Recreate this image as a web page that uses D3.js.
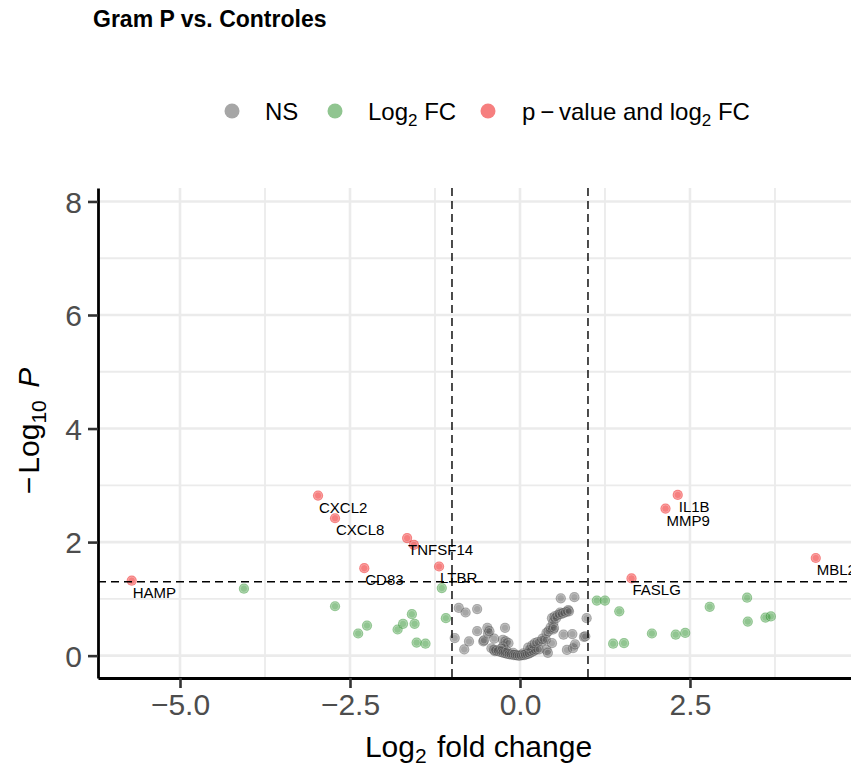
<!DOCTYPE html>
<html>
<head>
<meta charset="utf-8">
<script src="https://cdn.jsdelivr.net/npm/d3@7"></script>
<style>
    body { margin: 0; background: #fff; }
    svg { display: block; font-family: "Liberation Sans", Arial, Helvetica, sans-serif; }
</style>
</head>
<body>
<div id="container"></div>
<script>
// not significant: [log2FC, -log10 P]
const nsPoints = [
    [-0.96, 0.31], [-0.90, 0.84], [-0.82, 0.11], [-0.80, 0.76], [-0.75, 0.25],
    [-0.63, 0.82], [-0.63, 0.43], [-0.54, 0.25], [-0.53, 0.27], [-0.48, 0.49],
    [-0.47, 0.39], [-0.45, 0.43], [-0.38, 0.30], [-0.37, 0.08], [-0.25, 0.28],
    [-0.22, 0.49], [-0.21, 0.25], [-0.17, 0.22], [-0.25, 0.16],
    [-0.42, 0.13], [-0.38, 0.10], [-0.34, 0.09], [-0.30, 0.07], [-0.28, 0.12],
    [-0.27, 0.06], [-0.24, 0.05], [-0.21, 0.04], [-0.20, 0.09], [-0.18, 0.03],
    [-0.15, 0.02], [-0.12, 0.02], [-0.10, 0.05], [-0.09, 0.01], [-0.06, 0.01],
    [-0.03, 0.00], [0.00, 0.00], [0.03, 0.01], [0.05, 0.04], [0.06, 0.01],
    [0.09, 0.02], [0.12, 0.03], [0.15, 0.05], [0.15, 0.10], [0.18, 0.07],
    [0.21, 0.09], [0.24, 0.11],
    [0.12, 0.14], [0.18, 0.18], [0.22, 0.22], [0.26, 0.24], [0.28, 0.11],
    [0.32, 0.25], [0.33, 0.30], [0.38, 0.28], [0.39, 0.10], [0.39, 0.40],
    [0.41, 0.05], [0.42, 0.43], [0.45, 0.50], [0.47, 0.22], [0.47, 0.66],
    [0.49, 0.46], [0.49, 0.58], [0.50, 0.49], [0.51, 0.69], [0.53, 0.66],
    [0.56, 0.72], [0.59, 0.76], [0.60, 1.01], [0.60, 0.73], [0.64, 0.75],
    [0.64, 0.37], [0.68, 0.77], [0.69, 0.10], [0.71, 0.80], [0.72, 0.78],
    [0.77, 0.38], [0.78, 0.13], [0.80, 1.03], [0.81, 0.20], [0.94, 0.33],
    [0.96, 0.34], [0.98, 0.66]
];

// |log2FC| > 1 only
const fcPoints = [
    [-4.06, 1.18], [-2.72, 0.87], [-2.25, 0.53], [-2.38, 0.39], [-1.80, 0.46],
    [-1.72, 0.56], [-1.59, 0.73], [-1.55, 0.56], [-1.52, 0.23], [-1.39, 0.21],
    [-1.15, 1.19], [-1.09, 0.66],
    [1.13, 0.97], [1.25, 0.97], [1.46, 0.78], [1.37, 0.21], [1.53, 0.22],
    [1.94, 0.39], [2.29, 0.37], [2.43, 0.40], [2.79, 0.86], [3.34, 1.02],
    [3.35, 0.60], [3.61, 0.67], [3.69, 0.69]
];

// p-value and log2FC
const sigGenes = ['HAMP', 'CXCL2', 'CXCL8', 'TNFSF14', '', 'CD83', 'LTBR', 'IL1B', 'MMP9', 'FASLG', 'MBL2'];
const sigFC    = [-5.71, -2.97, -2.72, -1.66, -1.56, -2.29, -1.19, 2.32, 2.14, 1.64, 4.35];
const sigP     = [1.32, 2.82, 2.42, 2.07, 1.95, 1.54, 1.57, 2.83, 2.59, 1.36, 1.72];

const xTicks      = [-5, -2.5, 0, 2.5];
const xTickLabels = ['\u22125.0', '\u22122.5', '0.0', '2.5'];
const xMinor      = [-3.75, -1.25, 1.25, 3.75];
const yTicks      = [0, 2, 4, 6, 8];
const yTickLabels = ['0', '2', '4', '6', '8'];
const yMinor      = [1, 3, 5, 7];

const fcCutoff = 1;
const pCutoff  = -Math.log10(0.05);

window.onload = function() {
    'use strict';

    const canvas = { width: 851, height: 767 };
    const panel = { left: 98, right: 851, top: 188, bottom: 678 };

    const color = {
        ns: '#4d4d4d',
        fc: '#228b22',
        sig: '#ee0000',
        grid: '#ebebeb',
        tick: '#4d4d4d'
    };

    const svg = d3.select('#container')
        .append('svg')
        .attr('width', canvas.width)
        .attr('height', canvas.height);

    const x = d3.scaleLinear().domain([-6.206, 4.868]).range([panel.left, panel.right]);
    const y = d3.scaleLinear().domain([-0.394, 8.237]).range([panel.bottom, panel.top]);

    // grid
    const grid = svg.append('g');
    function vline(v, w) {
        grid.append('line')
            .attr('x1', x(v)).attr('x2', x(v))
            .attr('y1', panel.top).attr('y2', panel.bottom)
            .attr('stroke', color.grid).attr('stroke-width', w);
    }
    function hline(v, w) {
        grid.append('line')
            .attr('x1', panel.left).attr('x2', panel.right)
            .attr('y1', y(v)).attr('y2', y(v))
            .attr('stroke', color.grid).attr('stroke-width', w);
    }
    xMinor.forEach(v => vline(v, 1.8));
    yMinor.forEach(v => hline(v, 1.8));
    xTicks.forEach(v => vline(v, 2.6));
    yTicks.forEach(v => hline(v, 2.6));

    // points
    function drawPoints(data, fill) {
        const g = svg.append('g');
        data.forEach(d => {
            g.append('circle')
                .attr('cx', x(d[0]))
                .attr('cy', y(d[1]))
                .attr('r', 5.1)
                .attr('fill', fill)
                .attr('fill-opacity', 0.5);
            g.append('circle')
                .attr('cx', x(d[0]))
                .attr('cy', y(d[1]))
                .attr('r', 3.7)
                .attr('fill', 'none')
                .attr('stroke', '#fff')
                .attr('stroke-opacity', 0.35)
                .attr('stroke-width', 0.8);
        });
    }
    drawPoints(nsPoints, color.ns);
    drawPoints(fcPoints, color.fc);
    drawPoints(sigFC.map((v, i) => [v, sigP[i]]), color.sig);

    // cut-off lines
    const cut = svg.append('g')
        .attr('stroke', '#000')
        .attr('stroke-width', 1.4)
        .attr('stroke-dasharray', '8,5');
    [-fcCutoff, fcCutoff].forEach(v => {
        cut.append('line')
            .attr('x1', x(v)).attr('x2', x(v))
            .attr('y1', panel.top).attr('y2', panel.bottom);
    });
    cut.append('line')
        .attr('x1', panel.left).attr('x2', panel.right)
        .attr('y1', y(pCutoff)).attr('y2', y(pCutoff));

    // gene labels
    sigGenes.forEach((name, i) => {
        if (!name) return;
        svg.append('text')
            .attr('x', x(sigFC[i]) + 1)
            .attr('y', y(sigP[i]) + 17)
            .attr('font-size', 15)
            .attr('fill', '#000')
            .text(name);
    });

    // axes
    const xAxis = svg.append('g')
        .attr('transform', `translate(0,${panel.bottom})`)
        .call(d3.axisBottom(x).tickValues(xTicks)
            .tickFormat((d, i) => xTickLabels[i])
            .tickSize(10).tickSizeOuter(0).tickPadding(6));
    const yAxis = svg.append('g')
        .attr('transform', `translate(${panel.left},0)`)
        .call(d3.axisLeft(y).tickValues(yTicks)
            .tickFormat((d, i) => yTickLabels[i])
            .tickSize(10).tickSizeOuter(0).tickPadding(6));
    [xAxis, yAxis].forEach(a => {
        a.select('.domain').attr('stroke', '#000').attr('stroke-width', 2.8);
        a.selectAll('.tick line').attr('stroke', '#333').attr('stroke-width', 2.6);
        a.selectAll('.tick text')
            .attr('font-size', 30)
            .attr('fill', color.tick)
            .attr('font-family', '"Liberation Sans", Arial, sans-serif');
    });
    yAxis.selectAll('.tick text').attr('dy', '0.36em');

    // axis titles
    const xTitle = svg.append('text')
        .attr('x', (panel.left + panel.right) / 2 + 4)
        .attr('y', 757)
        .attr('text-anchor', 'middle')
        .attr('font-size', 30)
        .attr('fill', '#000');
    xTitle.append('tspan').text('Log');
    xTitle.append('tspan').attr('font-size', 21).attr('dy', 6).text('2');
    xTitle.append('tspan').attr('dy', -6).attr('dx', 2).text(' fold change');

    const yTitle = svg.append('text')
        .attr('transform', `translate(39,${(panel.top + panel.bottom) / 2 - 2}) rotate(-90)`)
        .attr('text-anchor', 'middle')
        .attr('font-size', 30)
        .attr('fill', '#000');
    yTitle.append('tspan').text('\u2212');
    yTitle.append('tspan').attr('dx', 3).text('Log');
    yTitle.append('tspan').attr('font-size', 21).attr('dy', 7).text('10');
    yTitle.append('tspan').attr('dy', -7).attr('dx', 4).text(' ');
    yTitle.append('tspan').attr('font-style', 'italic').text('P');

    // title
    svg.append('text')
        .attr('x', 93)
        .attr('y', 27)
        .attr('font-size', 23)
        .attr('font-weight', 'bold')
        .attr('fill', '#000')
        .text('Gram P vs. Controles');

    // legend
    const legendItems = [
        { fill: color.ns, cx: 232, tx: 265, parts: [['NS', 0]] },
        { fill: color.fc, cx: 335, tx: 368, parts: [['Log', 0], ['2', 1], [' FC', 0]] },
        { fill: color.sig, cx: 488, tx: 522, parts: [['p\u2009\u2212\u2009value and log', 0], ['2', 1], [' FC', 0]] }
    ];
    const legend = svg.append('g');
    legendItems.forEach(item => {
        legend.append('circle')
            .attr('cx', item.cx).attr('cy', 111).attr('r', 7.5)
            .attr('fill', item.fill).attr('fill-opacity', 0.5);
        const t = legend.append('text')
            .attr('x', item.tx).attr('y', 120)
            .attr('font-size', 24)
            .attr('fill', '#000');
        let shift = 0;
        item.parts.forEach(p => {
            const s = t.append('tspan').text(p[0]);
            if (p[1]) {
                s.attr('font-size', 17).attr('dy', 6);
                shift = 6;
            } else if (shift) {
                s.attr('dy', -shift);
                shift = 0;
            }
        });
    });
};
</script>
</body>
</html>
